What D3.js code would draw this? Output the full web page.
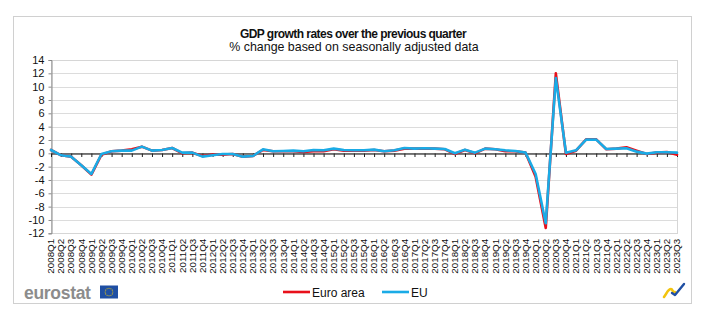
<!DOCTYPE html>
<html>
<head>
<meta charset="utf-8">
<script src="https://cdn.jsdelivr.net/npm/d3@7"></script>
<style>
  html, body { margin: 0; padding: 0; background: #ffffff; }
  svg { display: block; font-family: "Liberation Sans", Arial, sans-serif; }
</style>
</head>
<body>
<svg id="chart" width="704" height="326"></svg>
<script>
// Quarterly GDP growth over the previous quarter, % (seasonally adjusted)
const quarters = [
  "2008Q1","2008Q2","2008Q3","2008Q4","2009Q1","2009Q2","2009Q3","2009Q4",
  "2010Q1","2010Q2","2010Q3","2010Q4","2011Q1","2011Q2","2011Q3","2011Q4",
  "2012Q1","2012Q2","2012Q3","2012Q4","2013Q1","2013Q2","2013Q3","2013Q4",
  "2014Q1","2014Q2","2014Q3","2014Q4","2015Q1","2015Q2","2015Q3","2015Q4",
  "2016Q1","2016Q2","2016Q3","2016Q4","2017Q1","2017Q2","2017Q3","2017Q4",
  "2018Q1","2018Q2","2018Q3","2018Q4","2019Q1","2019Q2","2019Q3","2019Q4",
  "2020Q1","2020Q2","2020Q3","2020Q4","2021Q1","2021Q2","2021Q3","2021Q4",
  "2022Q1","2022Q2","2022Q3","2022Q4","2023Q1","2023Q2","2023Q3"
];

const euroArea = [
   0.5, -0.3, -0.5, -1.8, -3.2, -0.2,  0.3,  0.4,
   0.6,  1.0,  0.4,  0.5,  0.8,  0.0,  0.1, -0.4,
  -0.2, -0.2, -0.1, -0.5, -0.4,  0.5,  0.3,  0.3,
   0.3,  0.2,  0.3,  0.3,  0.6,  0.4,  0.4,  0.4,
   0.5,  0.3,  0.4,  0.7,  0.7,  0.7,  0.7,  0.6,
  -0.1,  0.5,  0.0,  0.7,  0.6,  0.3,  0.3,  0.1,
  -3.5,-11.2, 12.0, -0.1,  0.4,  2.1,  2.1,  0.6,
   0.7,  0.9,  0.4, -0.1,  0.1,  0.2, -0.2
];

const eu = [
   0.5, -0.3, -0.5, -1.8, -3.1, -0.1,  0.3,  0.4,
   0.4,  1.0,  0.4,  0.5,  0.8,  0.1,  0.1, -0.5,
  -0.3, -0.1, -0.1, -0.5, -0.4,  0.6,  0.3,  0.35,
   0.4,  0.3,  0.5,  0.45, 0.7,  0.5,  0.45, 0.45,
   0.55, 0.3,  0.45, 0.8,  0.7,  0.75, 0.7,  0.65,
   0.0,  0.55, 0.1,  0.7,  0.6,  0.45, 0.35, 0.1,
  -3.1,-10.5, 11.3,  0.1,  0.45, 2.05, 2.05, 0.65,
   0.7,  0.75, 0.25, -0.05, 0.15, 0.15, 0.1
];

const yTicks = [-12, -10, -8, -6, -4, -2, 0, 2, 4, 6, 8, 10, 12, 14];

const seriesList = [
  { name: "Euro area", values: euroArea, color: "#e8101a" },
  { name: "EU",        values: eu,       color: "#1aabe6" }
];

const svg = d3.select("#chart");

// outer frame
svg.append("rect")
  .attr("x", 13.5).attr("y", 16.5)
  .attr("width", 678).attr("height", 287)
  .attr("fill", "#ffffff").attr("stroke", "#d0d0d0").attr("stroke-width", 1);

// titles
svg.append("text")
  .attr("x", 353).attr("y", 37.5)
  .attr("text-anchor", "middle")
  .attr("font-size", 12).attr("font-weight", "bold").attr("fill", "#111")
  .attr("letter-spacing", -0.55)
  .text("GDP growth rates over the previous quarter");
svg.append("text")
  .attr("x", 354).attr("y", 51)
  .attr("text-anchor", "middle")
  .attr("font-size", 12.4).attr("fill", "#111")
  .text("% change based on seasonally adjusted data");

const plot = { left: 51, right: 677, top: 60, bottom: 233.3 };

const x = d3.scalePoint()
  .domain(quarters)
  .range([plot.left, plot.right])
  .padding(0);

const y = d3.scaleLinear()
  .domain([-12, 14])
  .range([plot.bottom, plot.top]);

// gridlines
svg.append("g")
  .selectAll("line")
  .data(yTicks)
  .join("line")
  .attr("x1", plot.left).attr("x2", plot.right)
  .attr("y1", d => Math.round(y(d)) + 0.5).attr("y2", d => Math.round(y(d)) + 0.5)
  .attr("stroke", "#dcdcdc").attr("stroke-width", 1);

// plot area border
svg.append("rect")
  .attr("x", plot.left + 0.5).attr("y", Math.round(plot.top) + 0.5)
  .attr("width", plot.right - plot.left)
  .attr("height", Math.round(plot.bottom) - Math.round(plot.top))
  .attr("fill", "none").attr("stroke", "#d6d6d6");

// y axis
const yAxis = d3.axisLeft(y)
  .tickValues(yTicks)
  .tickSize(3)
  .tickPadding(4)
  .tickFormat(d3.format("d"));

const gy = svg.append("g")
  .attr("transform", `translate(${plot.left + 0.5},0)`)
  .call(yAxis);
gy.select(".domain").attr("stroke", "#8a8a8a");
gy.selectAll(".tick line").attr("stroke", "#8a8a8a");
gy.selectAll(".tick text")
  .attr("font-family", "Liberation Sans, Arial, sans-serif")
  .attr("font-size", 11).attr("fill", "#111")
  .text(d => d < 0 ? "-" + Math.abs(d) : d);

// x axis along zero line with ticks below
const xAxis = d3.axisBottom(x)
  .tickSize(3.5)
  .tickSizeOuter(0)
  .tickFormat("");
const gx = svg.append("g")
  .attr("transform", `translate(0,${Math.round(y(0)) + 0.5})`)
  .call(xAxis);
gx.select(".domain").attr("stroke", "#000").attr("stroke-width", 1.2);
gx.selectAll(".tick line").attr("stroke", "#222");

// category labels, rotated, under the plot area
svg.append("g")
  .selectAll("text")
  .data(quarters)
  .join("text")
  .attr("transform", d => `translate(${x(d) + 3.3},${plot.bottom + 5.5}) rotate(-90)`)
  .attr("text-anchor", "end")
  .attr("font-size", 9.8)
  .attr("fill", "#111")
  .text(d => d);

// series lines
const line = d3.line()
  .x((d, i) => x(quarters[i]))
  .y(d => y(d));

svg.append("g")
  .selectAll("path")
  .data(seriesList)
  .join("path")
  .attr("d", s => line(s.values))
  .attr("fill", "none")
  .attr("stroke", s => s.color)
  .attr("stroke-width", 2.6)
  .attr("stroke-linejoin", "round")
  .attr("stroke-linecap", "round");

// legend
const legend = svg.append("g");
const legendItems = [
  { x: 283, s: seriesList[0] },
  { x: 382, s: seriesList[1] }
];
legendItems.forEach(it => {
  legend.append("line")
    .attr("x1", it.x).attr("x2", it.x + 27)
    .attr("y1", 292).attr("y2", 292)
    .attr("stroke", it.s.color).attr("stroke-width", 2.6);
  legend.append("text")
    .attr("x", it.x + 29).attr("y", 296.5)
    .attr("font-size", 12).attr("fill", "#111")
    .text(it.s.name);
});

// eurostat wordmark with flag
svg.append("text")
  .attr("x", 24).attr("y", 299)
  .attr("font-size", 17.5).attr("font-weight", "bold")
  .attr("letter-spacing", -0.3)
  .attr("fill", "#8c8c8c")
  .text("eurostat");
svg.append("rect")
  .attr("x", 100).attr("y", 285.5)
  .attr("width", 18).attr("height", 13)
  .attr("fill", "#1f4fa3");
const stars = d3.range(12).map(k => k * Math.PI / 6);
svg.append("g")
  .selectAll("circle")
  .data(stars)
  .join("circle")
  .attr("cx", a => 109 + 3.8 * Math.cos(a))
  .attr("cy", a => 292 + 3.8 * Math.sin(a))
  .attr("r", 0.55)
  .attr("fill", "#ffd200");

// small corner emblem
svg.append("path")
  .attr("d", "M664,297 C667,293 668,289 671,289 C673,289 672,293 675,292")
  .attr("fill", "none").attr("stroke", "#f2c40f").attr("stroke-width", 2.6)
  .attr("stroke-linecap", "round");
svg.append("path")
  .attr("d", "M672,293 L675,295 L684,284")
  .attr("fill", "none").attr("stroke", "#1f4fa3").attr("stroke-width", 2.4)
  .attr("stroke-linecap", "round").attr("stroke-linejoin", "round");
</script>
</body>
</html>
